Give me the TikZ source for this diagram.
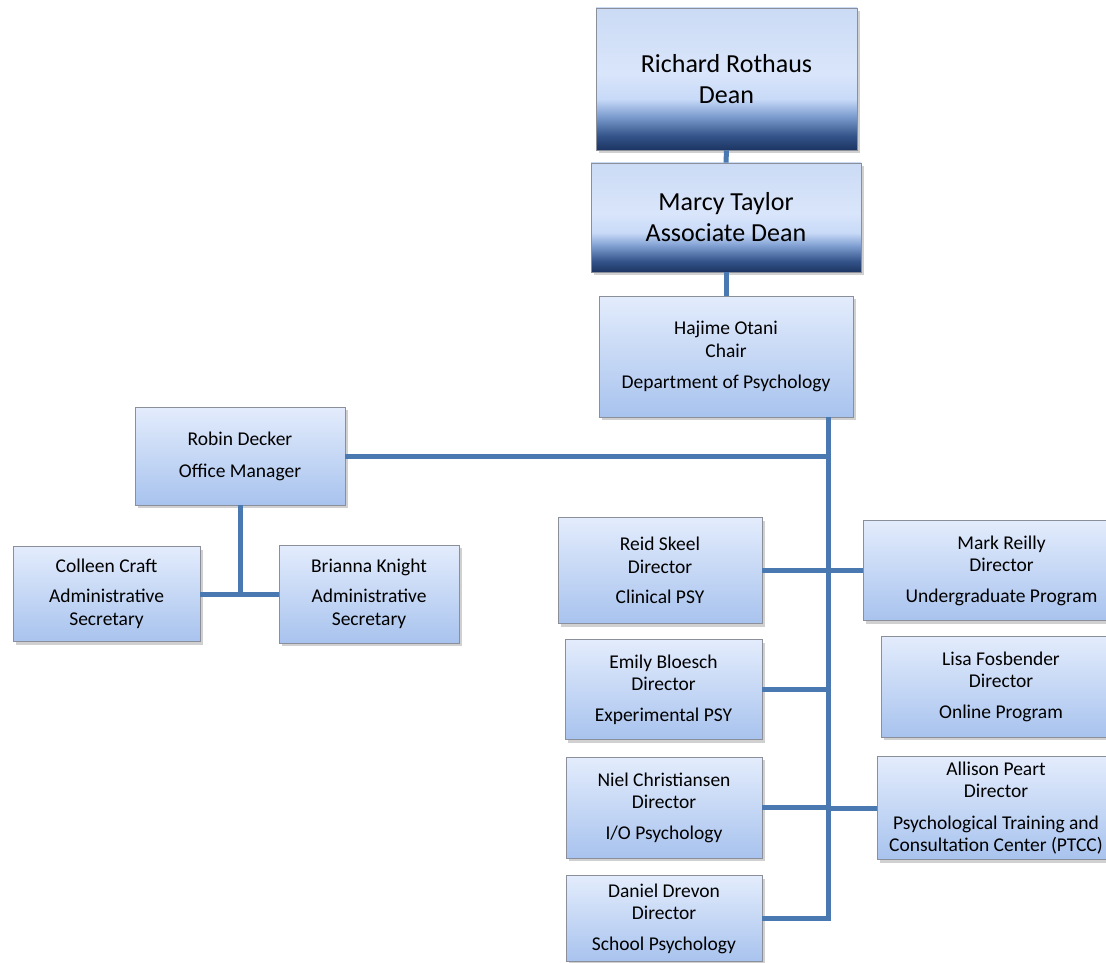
\documentclass[tikz,border=0pt]{standalone}
\usepackage{fontspec}
\setmainfont{Carlito}
\usetikzlibrary{shadows}
\definecolor{dkA}{HTML}{1C3462}
\definecolor{dkB}{HTML}{34548A}
\definecolor{dkC}{HTML}{7E9ED0}
\definecolor{ltA}{HTML}{C8DAF8}
\definecolor{ltB}{HTML}{D9E5FA}
\definecolor{ltC}{HTML}{CBDBF5}
\definecolor{boxtop}{HTML}{E3ECFC}
\definecolor{boxbot}{HTML}{A8C3EE}
\definecolor{connc}{HTML}{4A78B0}
\definecolor{edgec}{HTML}{8A8F99}
\pgfdeclareverticalshading{deanshade}{100bp}{color(0bp)=(dkA); color(25bp)=(dkA); color(30bp)=(dkB); color(37bp)=(dkC); color(43bp)=(ltA); color(52bp)=(ltB); color(75bp)=(ltC); color(100bp)=(ltC)}
\begin{document}
\begin{tikzpicture}[x=1pt,y=-1pt,
  basebox/.style={draw=edgec, line width=0.8pt, inner sep=0pt, align=center,
    drop shadow={shadow xshift=2.5pt, shadow yshift=-3pt, opacity=0.3, fill=black!60}},
  lbox/.style={basebox, top color=boxtop, bottom color=boxbot,
    font=\fontsize{19.5}{22.5}\selectfont},
  dbox/.style={basebox, shading=deanshade,
    font=\fontsize{26}{31}\selectfont},
  conn/.style={draw=connc, line width=5pt}]
\useasboundingbox (0,0) rectangle (1106,963);
\fill[white] (0,0) rectangle (1106,963);
\coordinate (spine) at (828,0);

\node[dbox, minimum width=261pt, minimum height=142pt] (dean) at (726.5,79) {Richard Rothaus\\Dean};
\node[dbox, minimum width=270pt, minimum height=109pt] (marcy) at (726,217.5) {Marcy Taylor\\Associate Dean};
\node[lbox, minimum width=254pt, minimum height=121pt] (hajime) at (726,356.5) {Hajime Otani\\Chair\\[8.5pt]Department of Psychology};
\node[lbox, minimum width=210pt, minimum height=98pt] (robin) at (240,456) {Robin Decker\\[9.5pt]Office Manager};
\node[lbox, minimum width=187pt, minimum height=95pt] (colleen) at (106.5,594) {Colleen Craft\\[7.5pt]Administrative\\Secretary};
\node[lbox, minimum width=180pt, minimum height=98pt] (brianna) at (369,594) {Brianna Knight\\[7.5pt]Administrative\\Secretary};
\node[lbox, minimum width=204pt, minimum height=106pt] (reid) at (660,570.5) {Reid Skeel\\Director\\[8pt]Clinical PSY};
\node[lbox, minimum width=277pt, minimum height=100pt] (mark) at (1001.5,570.5) {Mark Reilly\\Director\\[8pt]Undergraduate Program};
\node[lbox, minimum width=197pt, minimum height=100pt] (emily) at (663.5,689.5) {Emily Bloesch\\Director\\[8pt]Experimental PSY};
\node[lbox, minimum width=240pt, minimum height=101pt] (lisa) at (1001,686.5) {Lisa Fosbender\\Director\\[8pt]Online Program};
\node[lbox, minimum width=196pt, minimum height=101pt] (niel) at (664,807.5) {Niel Christiansen\\Director\\[8pt]I/O Psychology};
\node[lbox, minimum width=238pt, minimum height=103pt] (allison) at (996,808) {Allison Peart\\Director\\[9pt]Psychological Training and\\Consultation Center (PTCC)};
\node[lbox, minimum width=196pt, minimum height=86pt] (daniel) at (664,918.5) {Daniel Drevon\\Director\\[8pt]School Psychology};

\draw[conn] (dean.south) -- (marcy.north);
\draw[conn] (marcy.south) -- (hajime.north);
\draw[conn] (hajime.south -| spine) -- (daniel.east -| spine) -- (daniel.east);
\draw[conn] (robin.east) -- (robin.east -| spine);
\draw[conn] (robin.south) -- (robin.south |- colleen.east);
\draw[conn] (colleen.east) -- (brianna.west);
\draw[conn] (reid.east) -- (reid.east -| spine);
\draw[conn] (mark.west) -- (mark.west -| spine);
\draw[conn] (emily.east) -- (emily.east -| spine);
\draw[conn] (niel.east) -- (niel.east -| spine);
\draw[conn] (allison.west) -- (allison.west -| spine);
\end{tikzpicture}
\end{document}
